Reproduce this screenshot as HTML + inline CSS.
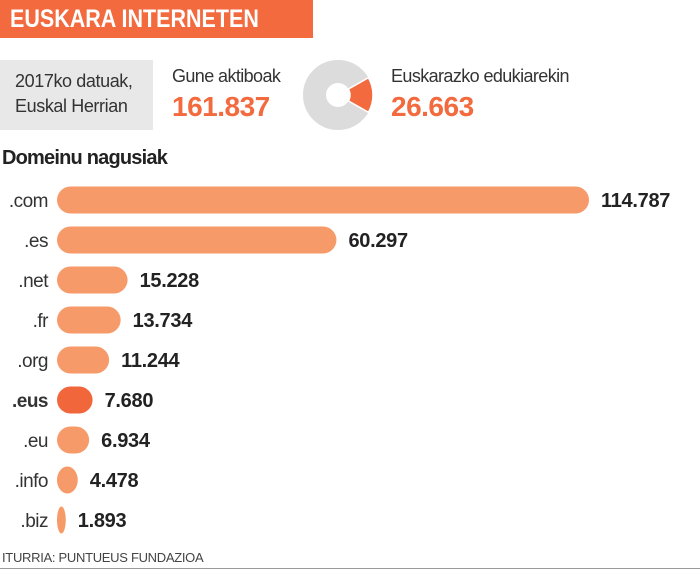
<!DOCTYPE html>
<html><head><meta charset="utf-8"><style>
body{margin:0;width:700px;height:570px;background:#fff;font-family:"Liberation Sans",sans-serif;overflow:hidden;position:relative}
.abs{position:absolute}
</style></head><body>
<div class="abs" style="left:0;top:0;width:313px;height:38px;background:#f26a3d"></div>
<div class="abs" style="left:10px;top:5px;font-size:25px;font-weight:900;color:#fff;letter-spacing:0px;transform:scaleX(0.86);transform-origin:left;white-space:nowrap">EUSKARA INTERNETEN</div>
<div class="abs" style="left:0;top:60px;width:153px;height:70px;background:#e8e8e8"></div>
<div class="abs" style="left:15px;top:69px;font-size:18px;line-height:25px;color:#333;letter-spacing:-0.4px">2017ko datuak,<br>Euskal Herrian</div>
<div class="abs" style="left:172px;top:66px;font-size:18px;color:#333;letter-spacing:-0.6px">Gune aktiboak</div>
<div class="abs" style="left:172px;top:91px;font-size:28px;font-weight:900;color:#f26a3d;letter-spacing:-0.5px">161.837</div>
<svg class="abs" style="left:0;top:0" width="700" height="570" id="chart"></svg>
<div class="abs" style="left:391px;top:66px;font-size:18px;color:#333;letter-spacing:-0.6px">Euskarazko edukiarekin</div>
<div class="abs" style="left:391px;top:91px;font-size:28px;font-weight:900;color:#f26a3d;letter-spacing:-0.5px">26.663</div>
<div class="abs" style="left:2px;top:147px;font-size:20px;font-weight:bold;color:#222;letter-spacing:-0.8px">Domeinu nagusiak</div>
<div class="abs" style="left:2px;top:550px;font-size:13px;color:#444;letter-spacing:-0.3px">ITURRIA: PUNTUEUS FUNDAZIOA</div>
<div class="abs" style="left:0;top:568px;width:700px;height:1px;background:#999"></div>
<script>
const categories=[".com",".es",".net",".fr",".org",".eus",".eu",".info",".biz"];
const values=[114787,60297,15228,13734,11244,7680,6934,4478,1893];
const valueLabels=["114.787","60.297","15.228","13.734","11.244","7.680","6.934","4.478","1.893"];
const totalSites=[161837];
const basqueSites=[26663];
const NS="http://www.w3.org/2000/svg";
const svg=document.getElementById('chart');
const x0=57,xScale=v=>v*(532/114787);
const rowY=i=>200+i*40;
function mk(t,a){const e=document.createElementNS(NS,t);for(const k in a)e.setAttribute(k,a[k]);svg.appendChild(e);return e;}
const cx=338,cy=95,R=35,r=12;
const frac=basqueSites[0]/totalSites[0];
const g=mk('circle',{cx:cx,cy:cy,r:(R+r)/2,fill:'none',stroke:'#dcdcdc','stroke-width':R-r});


const a0=-frac*Math.PI,a1=frac*Math.PI;
const p=(rad,a)=>[cx+rad*Math.cos(a),cy+rad*Math.sin(a)];
const [o1x,o1y]=p(R,a0),[o2x,o2y]=p(R,a1),[i2x,i2y]=p(r,a1),[i1x,i1y]=p(r,a0);
const sl=mk('path',{d:`M${o1x},${o1y}A${R},${R} 0 0 1 ${o2x},${o2y}L${i2x},${i2y}A${r},${r} 0 0 0 ${i1x},${i1y}Z`,fill:'#f26a3d',stroke:'#fff','stroke-width':1.5});


categories.forEach((c,i)=>{
  const y=rowY(i),w=Math.max(xScale(values[i]),2),h=27;
  const isEus=c==='.eus';
  const b=mk('rect',{x:x0,y:y-h/2,width:w,height:h,rx:Math.min(w/2,h/2),ry:h/2,fill:isEus?'#f2663c':'#f79a69'});
  
  
  const l=mk('text',{x:48,y:y+7,'text-anchor':'end','font-size':19,fill:'#333','font-weight':isEus?'bold':'normal','letter-spacing':'-0.5'});
  l.textContent=c;
  
  
  const v=mk('text',{x:x0+w+12,y:y+7,'font-size':20,'font-weight':'bold',fill:'#222','letter-spacing':'-0.3'});
  v.textContent=valueLabels[i];
  
  
});
</script>
</body></html>
